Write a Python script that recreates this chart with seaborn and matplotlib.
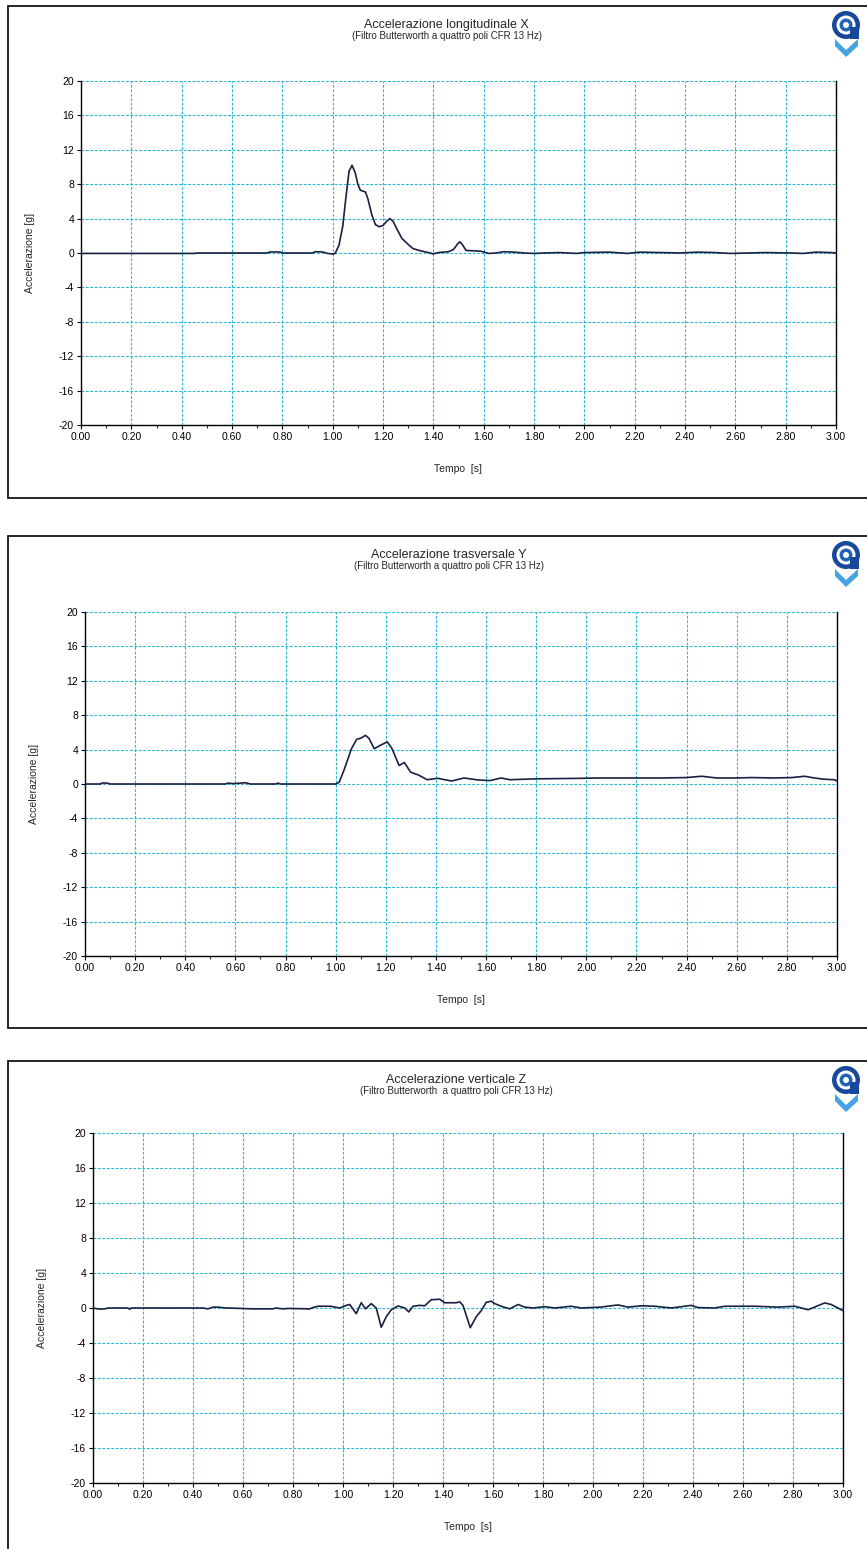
import numpy as np
import pandas as pd
import matplotlib
matplotlib.use("Agg")
import matplotlib.pyplot as plt
from matplotlib.patches import Rectangle, Circle, Polygon
import seaborn as sns

# ---- data: acceleration traces [g] versus time [s] ----
x_time = [0.00, 0.45, 0.46, 0.74, 0.75, 0.79, 0.80, 0.92, 0.93, 0.96, 0.98, 1.00,
          1.01, 1.025, 1.04, 1.052, 1.065, 1.077, 1.09, 1.10, 1.11, 1.13, 1.14, 1.155,
          1.17, 1.185, 1.20, 1.215, 1.227, 1.24, 1.255, 1.275, 1.30, 1.32, 1.35, 1.38,
          1.40, 1.42, 1.46, 1.48, 1.495, 1.505, 1.515, 1.53, 1.56, 1.59, 1.62, 1.65,
          1.68, 1.72, 1.76, 1.80, 1.84, 1.90, 1.97, 2.00, 2.10, 2.17, 2.22, 2.30, 2.38,
          2.45, 2.52, 2.58, 2.65, 2.72, 2.82, 2.87, 2.92, 2.98, 3.00]
x_acc = [-0.05, -0.05, 0.0, 0.0, 0.12, 0.12, 0.0, 0.0, 0.15, 0.12, -0.05, -0.12,
         -0.05, 0.9, 3.1, 6.3, 9.5, 10.2, 9.3, 8.0, 7.3, 7.1, 6.3, 4.5,
         3.3, 3.05, 3.2, 3.7, 4.0, 3.7, 2.8, 1.7, 1.0, 0.5, 0.25, 0.05,
         -0.1, 0.05, 0.15, 0.4, 1.0, 1.3, 1.0, 0.3, 0.25, 0.2, -0.05, 0.0,
         0.15, 0.1, 0.0, -0.05, 0.0, 0.05, -0.05, 0.05, 0.1, -0.05, 0.1, 0.05, 0.0,
         0.1, 0.05, -0.05, 0.0, 0.05, 0.0, -0.05, 0.1, 0.05, 0.0]

y_time = [0.00, 0.06, 0.07, 0.09, 0.10, 0.56, 0.57, 0.59, 0.62, 0.64, 0.66, 0.76,
          0.77, 0.78, 1.00, 1.014, 1.035, 1.063, 1.084, 1.102, 1.119, 1.133, 1.154,
          1.178, 1.206, 1.225, 1.253, 1.274, 1.299, 1.33, 1.365, 1.407, 1.463, 1.512,
          1.568, 1.617, 1.66, 1.695, 1.80, 1.95, 2.05, 2.15, 2.30, 2.40, 2.46, 2.52,
          2.60, 2.66, 2.75, 2.82, 2.87, 2.91, 2.95, 2.99, 3.00]
y_acc = [0.0, 0.0, 0.12, 0.1, 0.0, 0.0, 0.1, 0.05, 0.1, 0.15, 0.0, 0.0,
         0.1, 0.0, 0.0, 0.2, 1.75, 4.1, 5.2, 5.35, 5.66, 5.3, 4.1,
         4.5, 4.9, 4.1, 2.15, 2.5, 1.37, 1.05, 0.5, 0.66, 0.35, 0.7,
         0.47, 0.4, 0.7, 0.5, 0.6, 0.65, 0.7, 0.7, 0.7, 0.75, 0.9, 0.7,
         0.7, 0.75, 0.7, 0.75, 0.9, 0.7, 0.55, 0.5, 0.35]

z_time = [0.00, 0.02, 0.035, 0.047, 0.06, 0.14, 0.147, 0.153, 0.44, 0.46, 0.48, 0.50,
          0.53, 0.54, 0.64, 0.65, 0.72, 0.73, 0.76, 0.78, 0.867, 0.88, 0.90, 0.95,
          0.987, 1.013, 1.027, 1.053, 1.073, 1.09, 1.113, 1.133, 1.153, 1.173, 1.193,
          1.22, 1.247, 1.263, 1.28, 1.307, 1.327, 1.353, 1.387, 1.407, 1.453, 1.467,
          1.48, 1.509, 1.533, 1.553, 1.573, 1.593, 1.607, 1.633, 1.667, 1.70, 1.727,
          1.76, 1.807, 1.847, 1.913, 1.953, 2.03, 2.10, 2.14, 2.193, 2.247, 2.313,
          2.393, 2.42, 2.487, 2.527, 2.58, 2.647, 2.74, 2.807, 2.86, 2.927, 2.953, 3.00]
z_acc = [0.0, -0.1, -0.12, -0.1, 0.0, 0.0, -0.15, 0.0, 0.0, -0.1, 0.1, 0.1,
         0.0, 0.0, -0.1, -0.1, -0.1, 0.0, -0.1, -0.05, -0.1, 0.05, 0.2, 0.2,
         0.0, 0.3, 0.4, -0.65, 0.6, -0.1, 0.5, 0.0, -2.2, -1.0, -0.2,
         0.23, 0.0, -0.45, 0.2, 0.3, 0.25, 0.95, 1.0, 0.6, 0.6, 0.7,
         0.3, -2.25, -1.0, -0.3, 0.65, 0.78, 0.5, 0.2, -0.1, 0.4, 0.1,
         0.0, 0.15, 0.0, 0.2, 0.0, 0.1, 0.35, 0.1, 0.25, 0.2, 0.0,
         0.3, 0.05, 0.0, 0.2, 0.2, 0.2, 0.1, 0.2, -0.2, 0.58, 0.4, -0.3]

titles = ["Accelerazione longitudinale X", "Accelerazione trasversale Y",
          "Accelerazione verticale Z"]
subtitle = "(Filtro Butterworth a quattro poli CFR 13 Hz)"
subtitles = [subtitle, subtitle, "(Filtro Butterworth  a quattro poli CFR 13 Hz)"]
x_label = "Tempo  [s]"
y_label = "Accelerazione [g]"
x_ticks = [round(0.2 * i, 2) for i in range(16)]
y_ticks = list(range(-20, 21, 4))

series = [(x_time, x_acc), (y_time, y_acc), (z_time, z_acc)]

# ---- page layout (pixels, origin top-left) ----
W, H = 867, 1549
sns.set_style("white")
plt.rcParams["font.family"] = ["Liberation Sans", "DejaVu Sans"]

fig = plt.figure(figsize=(W / 100, H / 100), dpi=100)
fig.patch.set_facecolor("white")

# panel frames: box top, axes left/right, y of +20 and -20 gridlines
panels = [
    dict(box_top=6, left=81, right=836, top=81, bottom=425),
    dict(box_top=536, left=85, right=837, top=612, bottom=956),
    dict(box_top=1061, left=93, right=843, top=1133, bottom=1483),
]
BOX_H = 492
LINE = "#1a2042"
GRID = "#28b8d2"
PX = fig.dpi_scale_trans  # inches; 1 px = 0.01 in


def pt(x, y):
    return (x / 100, (H - y) / 100)


def fx(px):
    return px / W


def fy(py):
    return 1 - py / H


def add(patch):
    patch.set_transform(PX)
    fig.patches.append(patch)


def draw_logo(cx, cy):
    # light-blue chevron under the ring
    add(Polygon([pt(cx - 11, cy + 14), pt(cx, cy + 25), pt(cx + 12, cy + 14),
                 pt(cx + 12, cy + 21), pt(cx, cy + 32), pt(cx - 11, cy + 21)],
                closed=True, facecolor="#46a3e2", edgecolor="none", zorder=3))
    add(Circle(pt(cx, cy), 0.14, facecolor="#17489b", edgecolor="none", zorder=4))
    add(Circle(pt(cx, cy), 0.095, facecolor="white", edgecolor="none", zorder=5))
    add(Circle(pt(cx, cy), 0.065, facecolor="#1f62b8", edgecolor="none", zorder=6))
    add(Circle(pt(cx, cy), 0.03, facecolor="white", edgecolor="none", zorder=7))
    add(Rectangle(pt(cx + 4, cy + 14), 0.09, 0.12, facecolor="#17489b",
                  edgecolor="none", zorder=8))


for (t, a), p, ttl, sub in zip(series, panels, titles, subtitles):
    # white framed panel behind the plot
    add(Rectangle(pt(8, p["box_top"] + BOX_H), (W + 5 - 8) / 100, BOX_H / 100,
                  facecolor="white", edgecolor="black", lw=1.2, zorder=-5))
    ax = fig.add_axes([fx(p["left"]), fy(p["bottom"]), (p["right"] - p["left"]) / W,
                       (p["bottom"] - p["top"]) / H])
    ax.set_zorder(1)
    df = pd.DataFrame({"Tempo": t, "Acc": a})
    sns.lineplot(data=df, x="Tempo", y="Acc", ax=ax, color=LINE, lw=1.2,
                 estimator=None, sort=False, zorder=3)
    ax.set_xlim(0, 3.0)
    ax.set_ylim(-20, 20)
    ax.set_xticks(x_ticks)
    ax.set_xticklabels([f"{v:.2f}" for v in x_ticks])
    ax.set_xticks(np.arange(0.1, 3.0, 0.2), minor=True)
    ax.set_yticks(y_ticks)
    ax.set_yticklabels([str(v) for v in y_ticks])
    ax.tick_params(axis="both", which="major", direction="out", length=3, width=0.8,
                   labelsize=7.5, colors="black", pad=2)
    ax.tick_params(axis="x", which="minor", direction="out", length=2, width=0.8,
                   bottom=True)
    ax.tick_params(axis="x", bottom=True)
    ax.tick_params(axis="y", left=True)
    ax.grid(True, which="major", color=GRID, ls=(0, (2.5, 1.5)), lw=0.8)
    ax.set_axisbelow(True)
    for s in ["left", "bottom", "right"]:
        ax.spines[s].set_visible(True)
        ax.spines[s].set_color("black")
        ax.spines[s].set_linewidth(1.0)
    ax.spines["top"].set_visible(False)
    ax.set_xlabel(x_label, fontsize=7.5, labelpad=16)
    ax.set_ylabel(y_label, fontsize=7.5, labelpad=17)
    cx = (p["left"] + p["right"]) / 2 - 12
    fig.text(fx(cx), fy(p["box_top"] + 19), ttl, ha="center", va="center", fontsize=9)
    fig.text(fx(cx), fy(p["box_top"] + 30), sub, ha="center", va="center", fontsize=7)
    draw_logo(846, p["box_top"] + 19)

fig.savefig("out.png", dpi=100, facecolor="white")
